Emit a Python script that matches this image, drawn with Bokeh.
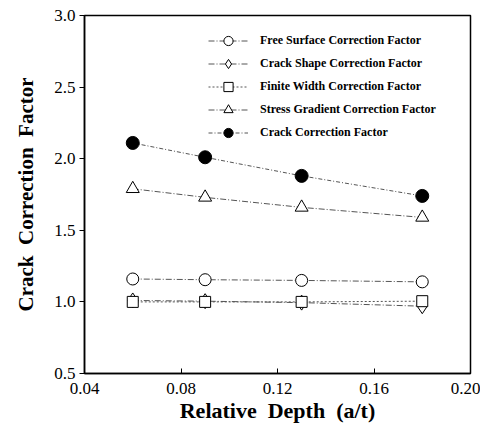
from bokeh.plotting import figure
from bokeh.embed import file_html
from bokeh.resources import INLINE
from bokeh.models import FixedTicker, Legend

depth = [0.06, 0.09, 0.13, 0.18]
free_surface = [1.16, 1.155, 1.15, 1.14]
crack_shape = [1.01, 1.005, 0.995, 0.97]
finite_width = [1.0, 1.0, 1.0, 1.005]
stress_gradient = [1.79, 1.73, 1.66, 1.59]
crack_correction = [2.11, 2.01, 1.88, 1.74]
x_ticks = [0.04, 0.08, 0.12, 0.16, 0.20]
y_ticks = [0.5, 1.0, 1.5, 2.0, 2.5, 3.0]

SERIF = "Liberation Serif"
NB = "\u00a0"

p = figure(width=480, height=425, x_range=(0.04, 0.20), y_range=(0.5, 3.0),
           output_backend="svg", toolbar_location=None,
           min_border_left=84, min_border_right=10, min_border_top=15, min_border_bottom=51)
p.grid.visible = False
p.outline_line_color = "black"
p.outline_line_width = 1.5
p.background_fill_color = "white"

for ax in (p.xaxis[0], p.yaxis[0]):
    ax.axis_line_color = "black"
    ax.axis_line_width = 1.5
    ax.major_tick_line_color = "black"
    ax.minor_tick_line_color = None
    ax.major_label_text_font = SERIF
    ax.major_label_text_font_size = "17px"
    ax.major_label_text_color = "black"
    ax.axis_label_text_font = SERIF
    ax.axis_label_text_font_style = "bold"
    ax.axis_label_text_color = "black"

p.xaxis.axis_label_text_font_size = "22px"
p.yaxis.axis_label_text_font_size = "21px"
p.xaxis.ticker = FixedTicker(ticks=x_ticks)
p.yaxis.ticker = FixedTicker(ticks=y_ticks)
p.xaxis.major_label_overrides = {t: f"{t:.2f}" for t in x_ticks}
p.yaxis.major_label_overrides = {t: f"{t:.1f}" for t in y_ticks}
p.xaxis.major_tick_in = 5
p.xaxis.major_tick_out = 0
p.yaxis.major_tick_in = 0
p.yaxis.major_tick_out = 5
p.xaxis.major_label_standoff = 9
p.yaxis.major_label_standoff = 4
p.xaxis.axis_label = f"Relative{NB}{NB}Depth{NB}{NB}(a/t)"
p.yaxis.axis_label = f"Crack{NB}{NB}Correction{NB}{NB}Factor"
p.xaxis.axis_label_standoff = 1
p.yaxis.axis_label_standoff = 13

LC = "#555555"
items = []

r1 = p.line(depth, free_surface, line_color=LC, line_width=1, line_dash="6 2 1 2")
m1 = p.scatter(depth, free_surface, marker="circle", size=12, fill_color="white",
               line_color="black", line_width=1)
items.append(("Free Surface Correction Factor", [r1, m1]))

r2 = p.line(depth, crack_shape, line_color=LC, line_width=1, line_dash="6 2 1 2")
m2 = p.scatter(depth, crack_shape, marker="diamond", size=15, fill_color="white",
               line_color="black", line_width=1)
items.append(("Crack Shape Correction Factor", [r2, m2]))

r3 = p.line(depth, finite_width, line_color=LC, line_width=1, line_dash="2 2")
m3 = p.scatter(depth, finite_width, marker="square", size=11, fill_color="white",
               line_color="black", line_width=1)
items.append(("Finite Width Correction Factor", [r3, m3]))

r4 = p.line(depth, stress_gradient, line_color=LC, line_width=1, line_dash="6 2 1 2")
m4 = p.scatter(depth, stress_gradient, marker="triangle", size=13, fill_color="white",
               line_color="black", line_width=1)
items.append(("Stress Gradient Correction Factor", [r4, m4]))

r5 = p.line(depth, crack_correction, line_color=LC, line_width=1, line_dash="4 2 1 2")
m5 = p.scatter(depth, crack_correction, marker="circle", size=13, fill_color="black",
               line_color="black", line_width=1)
items.append(("Crack Correction Factor", [r5, m5]))

legend = Legend(items=items, location=(124, 229))
legend.label_text_font = SERIF
legend.label_text_font_style = "bold"
legend.label_text_font_size = "12px"
legend.label_text_color = "black"
legend.border_line_color = None
legend.background_fill_alpha = 0
legend.glyph_width = 40
legend.glyph_height = 23
legend.label_height = 18
legend.spacing = 0
legend.padding = 5
legend.label_standoff = 12
p.add_layout(legend, "center")

open("out.html", "w").write(file_html(p, INLINE))
